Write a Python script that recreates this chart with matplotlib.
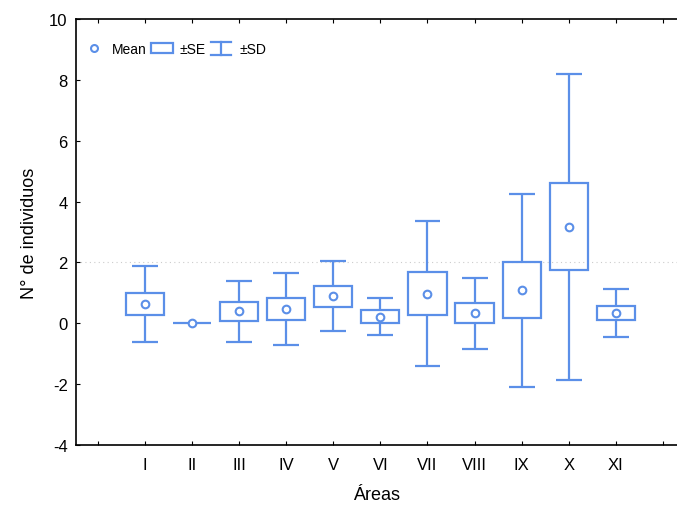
import matplotlib.pyplot as plt
from matplotlib.lines import Line2D
from matplotlib.patches import Rectangle
from matplotlib.legend_handler import HandlerBase

plt.rcParams['font.family'] = ['Liberation Sans', 'DejaVu Sans']
plt.rcParams['axes.unicode_minus'] = False

areas = ["I", "II", "III", "IV", "V", "VI", "VII", "VIII", "IX", "X", "XI"]
means = [0.64, 0.0, 0.39, 0.47, 0.89, 0.22, 0.97, 0.33, 1.08, 3.17, 0.34]
se = [0.37, 0.0, 0.30, 0.35, 0.35, 0.20, 0.71, 0.33, 0.92, 1.43, 0.23]
sd = [1.24, 0.0, 1.0, 1.18, 1.16, 0.62, 2.38, 1.16, 3.17, 5.03, 0.79]

blue = '#5b8fe8'
lw = 1.6
box_w = 0.81
cap_w = 0.55


class WhiskerHandler(HandlerBase):
    # draws the "I" symbol for +-SD in the legend
    def create_artists(self, legend, orig_handle, xdescent, ydescent,
                       width, height, fontsize, trans):
        cx = width / 2 - xdescent
        y0, y1 = -ydescent - 1, height - ydescent + 1
        w = width * 0.45
        arts = [Line2D([cx, cx], [y0, y1]),
                Line2D([cx - w, cx + w], [y0, y0]),
                Line2D([cx - w, cx + w], [y1, y1])]
        for a in arts:
            a.set_color(blue)
            a.set_linewidth(lw)
            a.set_transform(trans)
        return arts


fig = plt.figure(figsize=(6.77, 5.10), dpi=100)
ax = fig.add_axes([0.1123, 0.1255, 0.8877, 0.8353])

pos = list(range(1, len(areas) + 1))
lo_se = [m - s for m, s in zip(means, se)]
hi_se = [m + s for m, s in zip(means, se)]
lo_sd = [m - s for m, s in zip(means, sd)]
hi_sd = [m + s for m, s in zip(means, sd)]

ax.axhline(2, color='#cccccc', lw=0.8, ls=(0, (1, 3)), zorder=0)

ax.bar(pos, [2 * s for s in se], bottom=lo_se, width=box_w, fill=False,
       edgecolor=blue, linewidth=lw, zorder=2)
for i in range(len(pos)):
    if sd[i] == 0:
        continue
    ax.vlines(pos[i], hi_se[i], hi_sd[i], color=blue, lw=lw)
    ax.vlines(pos[i], lo_sd[i], lo_se[i], color=blue, lw=lw)
    ax.hlines([hi_sd[i], lo_sd[i]], pos[i] - cap_w / 2, pos[i] + cap_w / 2,
              color=blue, lw=lw)
ax.plot(pos, means, 'o', ms=5.5, mfc='white', mec=blue, mew=1.5, zorder=3)

ax.set_xlim(-0.465, 12.3)
ax.set_ylim(-4, 10)
ax.set_xticks(range(0, 13))
ax.set_xticklabels([""] + areas + [""])
ax.set_yticks(range(-4, 11, 2))
ax.tick_params(direction='in', length=3, width=0.8, labelsize=12,
               top=True, right=False, pad=6)
ax.tick_params(axis='x', pad=9)
ax.spines['right'].set_visible(False)
for s in ['left', 'bottom', 'top']:
    ax.spines[s].set_linewidth(1.2)

ax.set_xlabel("Áreas", fontsize=13, labelpad=10)
ax.set_ylabel("N° de individuos", fontsize=13, labelpad=8)

h_mean = Line2D([], [], ls='none', marker='o', ms=5, mfc='white', mec=blue, mew=1.5)
h_se = Rectangle((0, 0), 1, 1, fill=False, edgecolor=blue, lw=lw)
h_sd = Line2D([], [])
ax.legend([h_mean, h_se, h_sd], ["Mean", "±SE", "±SD"],
          handler_map={h_sd: WhiskerHandler()},
          loc='upper left', ncol=3, frameon=False, fontsize=10,
          handlelength=1.6, handletextpad=0.5, columnspacing=0.3,
          bbox_to_anchor=(-0.01, 0.975), borderaxespad=0.5)

fig.savefig("out.png", dpi=100)
